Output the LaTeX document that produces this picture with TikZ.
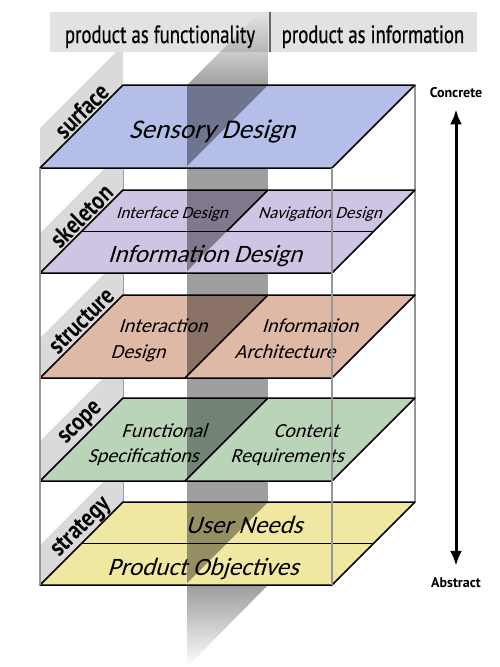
\documentclass[tikz,border=0pt]{standalone}
\usepackage{fontspec}
\usetikzlibrary{arrows.meta}
\newfontfamily\headfont[FakeStretch=0.75,FakeBold=0.6]{PT Sans}
\newfontfamily\tabfont[FakeStretch=0.85]{PT Sans}
\newfontfamily\endfont{PT Sans}
\newfontfamily\planefont[FakeSlant=0.3]{Carlito}
\definecolor{surfcol}{RGB}{180,190,232}
\definecolor{skelcol}{RGB}{208,196,228}
\definecolor{strucol}{RGB}{224,184,166}
\definecolor{scopcol}{RGB}{186,212,186}
\definecolor{stratcol}{RGB}{240,232,160}
\definecolor{tabcol}{RGB}{218,218,218}
\definecolor{headcol}{RGB}{226,226,226}
\definecolor{framecol}{RGB}{150,150,150}
\tikzset{
  layeredge/.style={draw=black, line width=1.5pt, line join=round},
  boxedge/.style={draw=framecol, line width=2pt},
  colshade/.style={fill=black, fill opacity=0.38},
  tabpanel/.style={fill=tabcol},
  tablabel/.style={font=\tabfont\bfseries\fontsize{25}{25}\selectfont, rotate=45, inner sep=0pt},
  planelabel/.style={font=\planefont\fontsize{#1}{#1}\selectfont, inner sep=0pt, anchor=base},
  headlabel/.style={font=\headfont\fontsize{25}{25}\selectfont, inner sep=0pt, anchor=base},
  endlabel/.style={font=\endfont\bfseries\fontsize{14}{14}\selectfont, inner sep=0pt, anchor=base},
}
\begin{document}
\begin{tikzpicture}[x=1pt, y=-1pt]
    \useasboundingbox (0,0) rectangle (500,667);
    % header
    \fill[headcol] (50,12) rectangle (477,52);
    \node[headlabel] (func) at (160,43) {product as functionality};
    \node[headlabel] (info) at (373,43) {product as information};
    \draw[line width=2pt, black!60] (270,12) -- (270,52);
    % column top, fading in
    \begin{scope}
      \clip (187,85) -- (268,4) -- (268,85) -- cycle;
      \foreach \k [evaluate=\k as \op using 0.38*\k/24] in {0,...,23}
        \fill[black, fill opacity=\op] (187,13+3*\k) rectangle (268,16+3*\k);
    \end{scope}
    % back edges and column
    \draw[boxedge] (123,85) -- (123,502);
    \draw[boxedge] (415,85) -- (415,502);
    \fill[colshade] (187,85) rectangle (268,585);
    % column bottom, fading out
    \begin{scope}
      \clip (187,585) -- (268,585) -- (187,667) -- cycle;
      \foreach \k [evaluate=\k as \op using 0.38*(1-\k/27)] in {0,...,26}
        \fill[black, fill opacity=\op] (187,585+3*\k) rectangle (268,588+3*\k);
    \end{scope}
    % strategy
    \fill[tabpanel] (40,585) -- (123,502) -- (123,462) -- (40,545) -- cycle;
    \node[tablabel] (strategy) at (81.5,528) {strategy};
    \fill[stratcol] (123,502) -- (415,502) -- (332,585) -- (40,585) -- cycle;
    \fill[colshade] (187,502) -- (268,502) -- (187,583) -- cycle;
    \draw[layeredge] (123,502) -- (415,502) -- (332,585) -- (40,585) -- cycle;
    \draw[layeredge] (81.5,543.5) -- (373.5,543.5);
    \node[planelabel=25] (needs) at (244,533) {User Needs};
    \node[planelabel=25] (objectives) at (203,575) {Product Objectives};
    % scope
    \fill[tabpanel] (40,481) -- (123,398) -- (123,358) -- (40,441) -- cycle;
    \node[tablabel] (scope) at (81.5,424) {scope};
    \fill[scopcol] (123,398) -- (415,398) -- (332,481) -- (40,481) -- cycle;
    \fill[colshade] (187,398) -- (268,398) -- (187,479) -- cycle;
    \draw[layeredge] (123,398) -- (415,398) -- (332,481) -- (40,481) -- cycle;
    \draw[layeredge] (268,398) -- (185,481);
    \node[planelabel=20] (functional) at (164,437) {Functional};
    \node[planelabel=20] (specs) at (143,462) {Specifications};
    \node[planelabel=20] (content) at (306,437) {Content};
    \node[planelabel=20] (requirements) at (287,462) {Requirements};
    % structure
    \fill[tabpanel] (40,378) -- (123,295) -- (123,255) -- (40,338) -- cycle;
    \node[tablabel] (structure) at (81.5,321) {structure};
    \fill[strucol] (123,295) -- (415,295) -- (332,378) -- (40,378) -- cycle;
    \fill[colshade] (187,295) -- (268,295) -- (187,376) -- cycle;
    \draw[layeredge] (123,295) -- (415,295) -- (332,378) -- (40,378) -- cycle;
    \draw[layeredge] (268,295) -- (185,378);
    \node[planelabel=20] (interaction) at (163,332) {Interaction};
    \node[planelabel=20] (ixdesign) at (138,358) {Design};
    \node[planelabel=20] (information) at (310,332) {Information};
    \node[planelabel=20] (architecture) at (285,358) {Architecture};
    % skeleton
    \fill[tabpanel] (40,273) -- (123,190) -- (123,150) -- (40,233) -- cycle;
    \node[tablabel] (skeleton) at (81.5,216) {skeleton};
    \fill[skelcol] (123,190) -- (415,190) -- (332,273) -- (40,273) -- cycle;
    \fill[colshade] (187,190) -- (268,190) -- (187,271) -- cycle;
    \draw[layeredge] (123,190) -- (415,190) -- (332,273) -- (40,273) -- cycle;
    \draw[layeredge] (81.5,231.5) -- (373.5,231.5);
    \draw[layeredge] (268,190) -- (226.5,231.5);
    \node[planelabel=17] (interface) at (172,218) {Interface Design};
    \node[planelabel=17] (navigation) at (320,218) {Navigation Design};
    \node[planelabel=25] (infodesign) at (205,262) {Information Design};
    % surface
    \fill[tabpanel] (40,168) -- (123,85) -- (123,52) -- (116,52) -- (40,128) -- cycle;
    \node[tablabel] (surface) at (81.5,111) {surface};
    \fill[surfcol] (123,85) -- (415,85) -- (332,168) -- (40,168) -- cycle;
    \fill[colshade] (187,85) -- (268,85) -- (187,166) -- cycle;
    \draw[layeredge] (123,85) -- (415,85) -- (332,168) -- (40,168) -- cycle;
    \node[planelabel=27] (sensory) at (212,138) {Sensory Design};
    % front edges
    \draw[boxedge] (40,168) -- (40,585);
    \draw[boxedge] (332,168) -- (332,585);
    % scale arrow
    \node[endlabel] (concrete) at (456,97) {Concrete};
    \node[endlabel] (abstract) at (456,587) {Abstract};
    \draw[line width=3pt, shorten <=12pt, shorten >=11pt,
      {Latex[length=15pt,width=12pt]}-{Latex[length=15pt,width=12pt]}]
      (concrete) -- (abstract);
\end{tikzpicture}
\end{document}
